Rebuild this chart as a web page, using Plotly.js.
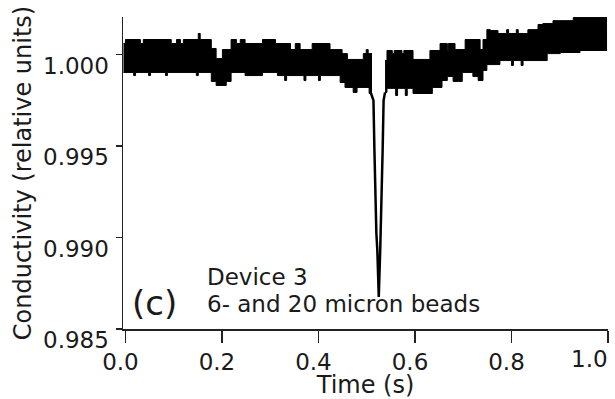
<!DOCTYPE html>
<html>
<head>
<meta charset="utf-8">
<script src="https://cdn.plot.ly/plotly-3.0.1.min.js"></script>
<style>html,body{margin:0;padding:0;background:#fff;}#chart{width:615px;height:399px;}</style>
</head>
<body>
<div id="chart"></div>
<script>
// Signal band before the dip (upper / lower envelope of the noisy trace)
const preUpperX = [-0.004, 0.000, 0.031, 0.037, 0.095, 0.106, 0.114, 0.120, 0.151, 0.155, 0.178, 0.188, 0.201, 0.219, 0.230, 0.238, 0.248, 0.284, 0.311, 0.342, 0.352, 0.362, 0.387, 0.424, 0.449, 0.460, 0.493, 0.499, 0.503, 0.511];
const preUpperY = [1.00060, 1.00082, 1.00060, 1.00082, 1.00060, 1.00082, 1.00060, 1.00082, 1.00115, 1.00082, 1.00033, 0.99978, 1.00027, 1.00082, 1.00060, 1.00082, 1.00060, 1.00082, 1.00060, 1.00027, 1.00060, 1.00027, 1.00060, 1.00027, 1.00005, 0.99973, 1.00005, 1.00027, 1.00005, 1.00005];
const preLowerX = [-0.004, 0.017, 0.021, 0.048, 0.052, 0.083, 0.087, 0.147, 0.151, 0.178, 0.188, 0.209, 0.219, 0.248, 0.284, 0.315, 0.330, 0.334, 0.370, 0.374, 0.400, 0.404, 0.445, 0.455, 0.472, 0.480, 0.505, 0.511];
const preLowerY = [0.99902, 0.99885, 0.99902, 0.99885, 0.99902, 0.99885, 0.99902, 0.99885, 0.99902, 0.99853, 0.99831, 0.99853, 0.99902, 0.99885, 0.99902, 0.99885, 0.99858, 0.99885, 0.99858, 0.99885, 0.99858, 0.99885, 0.99847, 0.99820, 0.99793, 0.99820, 0.99787, 0.99787];

// The bead-passage dip
const dipX = [0.509, 0.514, 0.516, 0.518, 0.520, 0.522, 0.525, 0.528, 0.529, 0.531, 0.533, 0.535, 0.538];
const dipY = [0.99787, 0.99749, 0.99476, 0.99204, 0.99024, 0.98931, 0.98675, 0.98931, 0.99024, 0.99204, 0.99476, 0.99749, 0.99793];

// Signal band after the dip
const postUpperX = [0.538, 0.542, 0.553, 0.557, 0.573, 0.577, 0.596, 0.631, 0.652, 0.667, 0.669, 0.683, 0.704, 0.735, 0.741, 0.749, 0.756, 0.772, 0.790, 0.794, 0.810, 0.814, 0.834, 0.855, 0.865, 0.886, 0.928, 0.998];
const postUpperY = [0.99967, 1.00022, 1.00005, 1.00022, 1.00005, 1.00022, 0.99973, 1.00022, 1.00060, 1.00022, 1.00060, 1.00027, 1.00082, 1.00027, 1.00082, 1.00136, 1.00131, 1.00115, 1.00136, 1.00115, 1.00136, 1.00115, 1.00136, 1.00164, 1.00169, 1.00185, 1.00202, 1.00202];
const postLowerX = [0.538, 0.542, 0.560, 0.564, 0.580, 0.584, 0.596, 0.636, 0.656, 0.667, 0.679, 0.698, 0.720, 0.731, 0.741, 0.749, 0.776, 0.800, 0.804, 0.820, 0.824, 0.874, 0.901, 0.942, 0.998];
const postLowerY = [0.99793, 0.99815, 0.99776, 0.99815, 0.99776, 0.99815, 0.99787, 0.99820, 0.99858, 0.99880, 0.99853, 0.99902, 0.99880, 0.99858, 0.99913, 0.99945, 0.99967, 0.99940, 0.99967, 0.99940, 0.99967, 1.00005, 1.00011, 1.00022, 1.00022];

// Ticks (the last x label is placed separately, pulled inside the frame as in the original)
const xTickVals = [0, 0.2, 0.4, 0.6, 0.8, 1.0];
const xTickText = ['0.0', '0.2', '0.4', '0.6', '0.8', ''];
const xLastLabel = '1.0';
const yTickVals = [0.985, 0.990, 0.995, 1.000];
const yTickText = ['0.985', '0.990', '0.995', '1.000'];

const panelLabel = '(c)';
const noteLines = ['Device 3', '6- and 20 micron beads'];

const FONT = 'DejaVu Sans, Arial, sans-serif';
const TXT = '#1a1a1a';
const ink = '#000';

function band(lx, ly, ux, uy) {
  return [
    {x: lx, y: ly, type: 'scatter', mode: 'lines', line: {color: ink, width: 1, shape: 'hv'}, hoverinfo: 'skip'},
    {x: ux, y: uy, type: 'scatter', mode: 'lines', line: {color: ink, width: 1, shape: 'hv'}, fill: 'tonexty', fillcolor: ink, hoverinfo: 'skip'}
  ];
}

const data = [
  ...band(preLowerX, preLowerY, preUpperX, preUpperY),
  ...band(postLowerX, postLowerY, postUpperX, postUpperY),
  {x: dipX, y: dipY, type: 'scatter', mode: 'lines', line: {color: ink, width: 2.5}, hoverinfo: 'skip'}
];

const noteText = noteLines.map(s => '<span style="font-size:23px">' + s + '</span>').join('<br>');

const layout = {
  width: 615, height: 399,
  margin: {l: 123, r: 7, t: 17, b: 70},
  paper_bgcolor: '#fff', plot_bgcolor: '#fff',
  showlegend: false,
  font: {family: FONT, size: 23, color: TXT},
  xaxis: {
    range: [-0.005, 1.0],
    tickvals: xTickVals, ticktext: xTickText,
    showline: true, linecolor: '#222', linewidth: 1.5,
    ticks: 'outside', ticklen: 12, tickwidth: 1.5, tickcolor: '#222',
    showgrid: false, zeroline: false,
    tickfont: {family: FONT, size: 23, color: TXT},
    ticklabelshift: -5,
    ticklabelstandoff: 0,
    title: {text: 'Time (s)', font: {family: FONT, size: 24, color: TXT}, standoff: 4}
  },
  yaxis: {
    range: [0.985, 1.00205],
    tickvals: yTickVals, ticktext: yTickText,
    showline: true, linecolor: '#222', linewidth: 1.5,
    ticks: 'outside', ticklen: 6, tickwidth: 1.5, tickcolor: '#222',
    showgrid: false, zeroline: false,
    tickfont: {family: FONT, size: 23, color: TXT},
    ticklabelshift: 11,
    ticklabelstandoff: 2,
    title: {text: 'Conductivity (relative units)', font: {family: FONT, size: 24, color: TXT}, standoff: 4}
  },
  annotations: [
    {text: xLastLabel, xref: 'paper', yref: 'paper', x: 1.004, y: -0.096, xanchor: 'right', yanchor: 'middle', showarrow: false, font: {family: FONT, size: 23, color: TXT}},
    {text: panelLabel, xref: 'paper', yref: 'paper', x: 0.064, y: 0.082, xanchor: 'center', yanchor: 'middle', showarrow: false, font: {family: FONT, size: 34, color: TXT}},
    {text: noteText, xref: 'paper', yref: 'paper', x: 0.169, y: 0.125, xanchor: 'left', yanchor: 'middle', align: 'left', showarrow: false, font: {family: FONT, size: 21, color: TXT}}
  ],
  hovermode: false
};

Plotly.newPlot('chart', data, layout, {displayModeBar: false, staticPlot: true});
</script>
</body>
</html>
